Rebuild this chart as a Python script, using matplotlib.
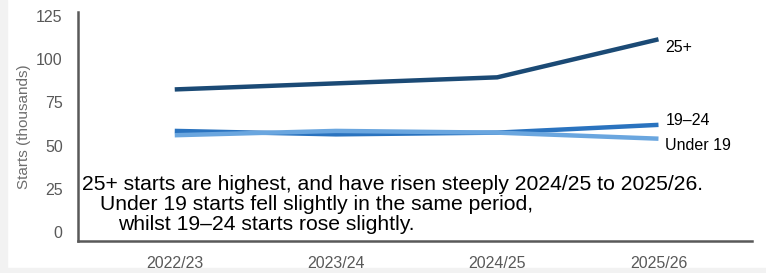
import matplotlib
matplotlib.use("Agg")
import matplotlib.pyplot as plt
import matplotlib.patches as mpatches

plt.rcParams["font.family"] = ["Liberation Sans", "DejaVu Sans"]

# data (thousands of starts)
years = ["2022/23", "2023/24", "2024/25", "2025/26"]
starts_25plus = [82.5, 86.0, 89.5, 111.5]
starts_19_24 = [58.5, 56.5, 57.5, 62.0]
starts_under19 = [56.0, 58.5, 57.5, 54.0]

series = [
    ("25+", starts_25plus, "#1b4a75", -6),
    ("19\u201324", starts_19_24, "#2a73bf", 3),
    ("Under 19", starts_under19, "#6aa6df", -5),
]

GREY = "#595959"

fig = plt.figure(figsize=(7.66, 2.73), dpi=100)
fig.patch.set_facecolor("white")
# thin grey page margin on left and bottom
fig.patches.append(mpatches.Rectangle((0, 0), 7 / 766, 1, transform=fig.transFigure,
                                      color="#f2f2f2", zorder=-10))
fig.patches.append(mpatches.Rectangle((0, 0), 1, 5 / 273, transform=fig.transFigure,
                                      color="#f2f2f2", zorder=-10))

ax = fig.add_axes([78 / 766, 1 - 241 / 273, (752 - 78) / 766, (241 - 12) / 273])
ax.set_facecolor("white")

x = list(range(len(years)))
for name, vals, col, dy in series:
    ax.plot(x, vals, color=col, linewidth=3.2, solid_capstyle="butt")
    ax.annotate(name, xy=(x[-1], vals[-1]), xytext=(5, dy),
                textcoords="offset points", va="center", ha="left",
                fontsize=11.5, color="black")

ax.set_xlim(-0.6, 3.58)
ax.set_ylim(-5.2, 127.3)
ax.set_yticks([0, 25, 50, 75, 100, 125])
ax.set_xticks(x)
ax.set_xticklabels(years)
ax.tick_params(axis="both", length=0, labelsize=11.5, labelcolor=GREY)
ax.tick_params(axis="y", pad=11)
ax.tick_params(axis="x", pad=11)
ax.set_ylabel("Starts (thousands)", color="#6d6d6d", fontsize=11, labelpad=4)

for s in ["top", "right"]:
    ax.spines[s].set_visible(False)
for s in ["left", "bottom"]:
    ax.spines[s].set_color(GREY)
    ax.spines[s].set_linewidth(1.8)

# commentary inside plot
note_lines = [
    (0.006, 0.245, "25+ starts are highest, and have risen steeply 2024/25 to 2025/26."),
    (0.033, 0.160, "Under 19 starts fell slightly in the same period,"),
    (0.060, 0.072, "whilst 19\u201324 starts rose slightly."),
]
for tx, ty, line in note_lines:
    ax.text(tx, ty, line, transform=ax.transAxes, fontsize=15.2, color="black",
            va="center", ha="left")

fig.savefig("out.png", dpi=100, facecolor=fig.get_facecolor())
